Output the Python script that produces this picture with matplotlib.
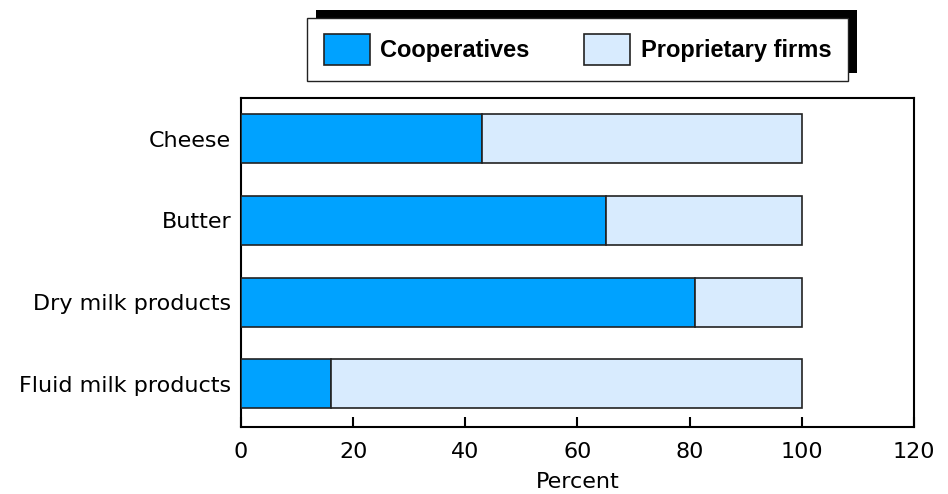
import matplotlib.pyplot as plt
from matplotlib.patches import Rectangle

categories = ['Fluid milk products', 'Dry milk products', 'Butter', 'Cheese']
cooperatives = [16, 81, 65, 43]
proprietary = [84, 19, 35, 57]
series_names = ['Cooperatives', 'Proprietary firms']
colors = ['#00A2FF', '#D8EBFE']
xticks = [0, 20, 40, 60, 80, 100, 120]

plt.rcParams['font.family'] = ['DejaVu Sans']

fig = plt.figure(figsize=(9.48, 4.94), dpi=100)
ax = fig.add_axes([0.2542, 0.1356, 0.7099, 0.666])

ypos = range(len(categories))
ax.barh(ypos, cooperatives, height=0.6, color=colors[0], edgecolor='#222222',
        linewidth=1.2, label=series_names[0], zorder=3)
ax.barh(ypos, proprietary, left=cooperatives, height=0.6, color=colors[1],
        edgecolor='#222222', linewidth=1.2, label=series_names[1], zorder=3)

ax.set_xlim(0, 120)
ax.set_ylim(-0.53, 3.5)
ax.set_xticks(xticks)
ax.set_yticks(list(ypos))
ax.set_yticklabels(categories, fontsize=16)
ax.tick_params(axis='x', direction='in', length=7, width=1.5, labelsize=16, pad=11)
ax.tick_params(axis='y', direction='in', length=6, width=1.5, pad=7)
for s in ax.spines.values():
    s.set_linewidth(1.5)
    s.set_color('black')
ax.set_xlabel('Percent', fontsize=16, labelpad=7)

# legend box spans x 307..847 px, centred near y 49 px
leg = fig.legend(loc='center', bbox_to_anchor=(307 / 948, 0.900, 541 / 948, 0),
                 mode='expand', ncol=2,
                 prop={'family': 'Liberation Sans', 'weight': 'bold', 'size': 17},
                 frameon=True, fancybox=False, framealpha=1, facecolor='white',
                 edgecolor='#222222', handlelength=1.95, handleheight=1.6,
                 columnspacing=2.0, handletextpad=0.45, borderpad=0.7,
                 borderaxespad=0)
leg.get_frame().set_linewidth(1.0)
leg.set_zorder(10)

# black shadow up-right of the legend box
fig.canvas.draw()
bb = leg.get_window_extent().transformed(fig.transFigure.inverted())
fig.patches.append(Rectangle((bb.x0 + 9 / 948, bb.y0 + 8 / 494), bb.width, bb.height,
                             transform=fig.transFigure, facecolor='black',
                             edgecolor='none', zorder=5))

fig.savefig('out.png', dpi=100)
